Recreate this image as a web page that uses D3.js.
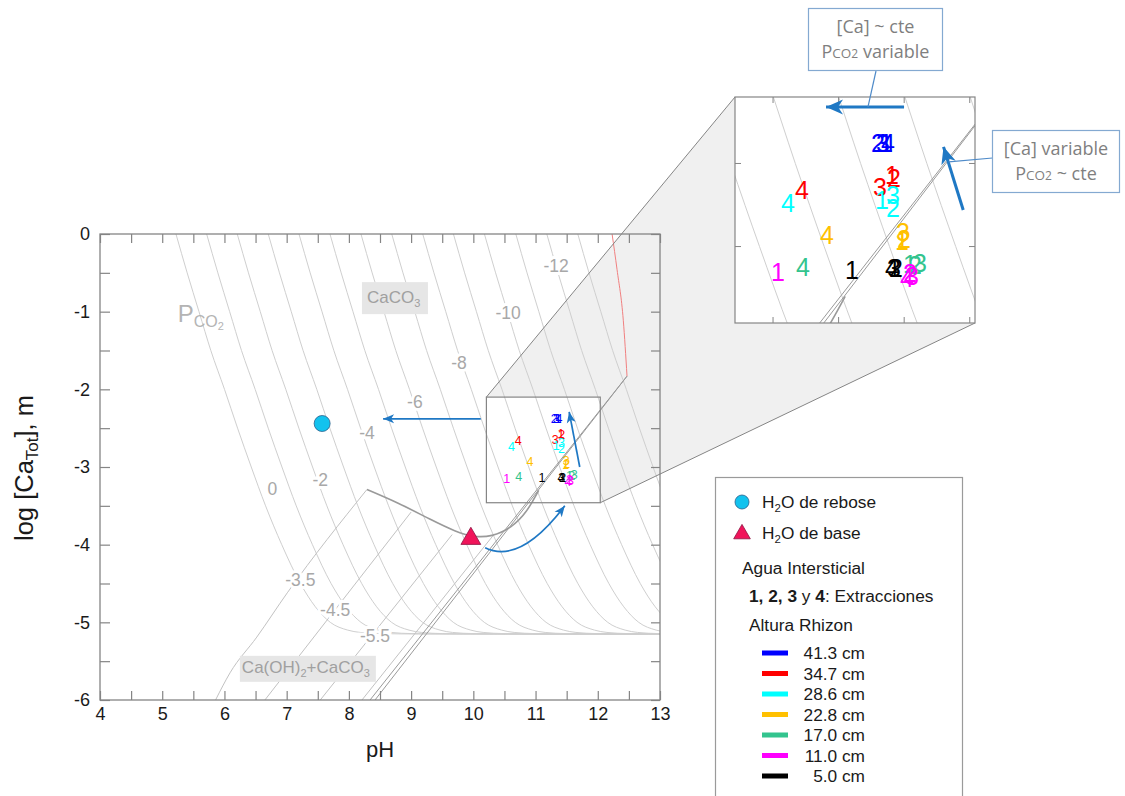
<!DOCTYPE html>
<html>
<head>
<meta charset="utf-8">
<title>log [Ca] – pH</title>
<script src="https://cdn.jsdelivr.net/npm/d3@7/dist/d3.min.js"></script>
<style>
  html, body { margin: 0; padding: 0; background: #fff; }
  svg { display: block; font-family: "Liberation Sans", Arial, Helvetica, sans-serif; }
</style>
</head>
<body>
<svg id="chart" width="1125" height="796"></svg>
<script>
// ---------- axis ticks ----------
const pHTicks = [4, 5, 6, 7, 8, 9, 10, 11, 12, 13];
const logCaTicks = [0, -1, -2, -3, -4, -5, -6];

// ---------- P_CO2 isolines (calcite equilibrium) ----------
// pH where each isoline meets log[Ca]=0, and the common isoline shape (pH offset vs log[Ca])
const pco2Levels  = [0, -1, -2, -3, -4, -5, -6, -7, -8, -9, -10, -11, -12, -13];
const isoTopPH    = [5.221, 5.714, 6.206, 6.704, 7.198, 7.696, 8.194, 8.689, 9.187, 9.680, 10.178, 10.683, 11.181, 11.679];
const isoShapeCa  = [0, -0.5, -1, -1.5, -2, -2.5, -3, -3.5, -4, -4.5, -4.8, -5.0, -5.1, -5.13, -5.145, -5.15, -5.15];
const isoShapeDPH = [0, 0.18, 0.37, 0.56, 0.78, 0.99, 1.21, 1.44, 1.70, 2.00, 2.24, 2.48, 2.76, 2.96, 3.30, 3.90, 30];
const isoLabelText = ["0", "-2", "-4", "-6", "-8", "-10", "-12"];
const isoLabelPH   = [6.77, 7.54, 8.29, 9.06, 9.77, 10.56, 11.33];
const isoLabelCa   = [-3.28, -3.17, -2.56, -2.16, -1.66, -1.02, -0.41];

// ---------- Ca(OH)2 + CaCO3 field ----------
const mix35PH = [5.857, 6.09, 6.52, 7.01, 8.29];
const mix35Ca = [-6.0, -5.65, -5.19, -4.62, -3.29];
const mix45PH = [6.65, 9.0];
const mix45Ca = [-6.0, -3.58];
const mix55PH = [7.54, 9.66];
const mix55Ca = [-6.0, -3.87];
const mix65PH = [8.21, 10.33];
const mix65Ca = [-6.0, -3.87];
const mixLabelText = ["-3.5", "-4.5", "-5.5"];
const mixLabelPH   = [7.22, 7.78, 8.42];
const mixLabelCa   = [-4.45, -4.84, -5.17];
// upper boundary of the mixed field
const ridgePH = [8.29, 8.80, 9.30, 9.70, 10.00, 10.30, 10.60, 10.85, 11.05];
const ridgeCa = [-3.29, -3.47, -3.67, -3.82, -3.89, -3.88, -3.77, -3.57, -3.30];
// Ca(OH)2 saturation edge (double line) and its upper continuation
const edgeAPH = [8.34, 12.47];
const edgeACa = [-6.0, -1.83];
const edgeBPH = [8.42, 12.47];
const edgeBCa = [-6.0, -1.83];
const portlPH = [12.47, 12.41, 12.31, 12.23];
const portlCa = [-1.83, -1.11, -0.46, 0];

// ---------- samples ----------
const sampleName = ["rebose", "base"];
const samplePH   = [7.57, 9.96];
const sampleCa   = [-2.44, -3.91];

// ---------- pore water (Rhizon), extractions 1..4 ----------
const rhizonHeight = ["41.3", "34.7", "28.6", "22.8", "17.0", "11.0", "5.0"];
const extraction   = ["1", "2", "3", "4"];
const rhizonPH = [
  [11.361, 11.300, 11.338, 11.377],
  [11.407, 11.422, 11.316, 10.721],
  [11.331, 11.415, 11.415, 10.614],
  [11.483, 11.499, 11.491, 10.911],
  [11.544, 11.582, 11.621, 10.728],
  [10.538, 11.544, 11.560, 11.521],
  [11.102, 11.438, 11.422, 11.407]
];
const rhizonCa = [
  [-2.377, -2.377, -2.377, -2.377],
  [-2.569, -2.587, -2.642, -2.660],
  [-2.720, -2.768, -2.690, -2.738],
  [-2.967, -2.955, -2.912, -2.930],
  [-3.105, -3.111, -3.099, -3.123],
  [-3.153, -3.159, -3.177, -3.189],
  [-3.141, -3.129, -3.129, -3.129]
];
const rhizonColor = ["#0000ff", "#ff0000", "#00ffff", "#ffc000", "#33c48e", "#ff00ff", "#000000"];

// magnified window (pH, log[Ca])
const winPH = [10.21, 12.04];
const winCa = [-2.10, -3.46];

// trend arrows [pH, logCa] tail -> head
const arrowMainH    = [[10.12, -2.38], [8.55, -2.38]];
const arrowMainV    = [[11.71, -3.00], [11.54, -2.29]];
const arrowCurve    = [[10.19, -4.04], [10.75, -4.26], [11.47, -3.50]];
const arrowZoomH    = [[11.499, -2.16], [10.904, -2.16]];
const arrowZoomDiag = [[11.95, -2.78], [11.80, -2.40]];

// ================= drawing =================
const svg = d3.select("#chart");
const x  = d3.scaleLinear().domain([4, 13]).range([100, 660]);
const y  = d3.scaleLinear().domain([0, -6]).range([234, 700]);
const zx = d3.scaleLinear().domain(winPH).range([735, 975]);
const zy = d3.scaleLinear().domain(winCa).range([97, 323]);

const ARROW = "#1f78c4";
const ISO = "#cfcfcf";
const EDGE = "#9a9a9a";
const LABEL = "#a8a8a8";
const FRAME = "#858585";

const defs = svg.append("defs");
defs.append("clipPath").attr("id", "clipMain").append("rect")
  .attr("x", x(4)).attr("y", y(0)).attr("width", x(13) - x(4)).attr("height", y(-6) - y(0));
defs.append("clipPath").attr("id", "clipZoom").append("rect")
  .attr("x", zx(winPH[0])).attr("y", zy(winCa[0]))
  .attr("width", zx(winPH[1]) - zx(winPH[0])).attr("height", zy(winCa[1]) - zy(winCa[0]));

function marker(id, len, half, notch) {
  defs.append("marker").attr("id", id).attr("markerUnits", "userSpaceOnUse")
    .attr("viewBox", `${-len - 1} ${-half - 1} ${len + 2} ${2 * half + 2}`)
    .attr("markerWidth", len + 2).attr("markerHeight", 2 * half + 2)
    .attr("refX", 0).attr("refY", 0).attr("orient", "auto")
    .append("path")
    .attr("d", `M0,0 L${-len},${-half} L${-len + notch},0 L${-len},${half} Z`)
    .attr("fill", ARROW);
}
marker("headS", 11, 4.5, 3);
marker("headL", 17, 7.5, 5);

const zip = (a, b) => a.map((v, i) => [v, b[i]]);
const lineIn = (sx, sy, curve) => {
  const l = d3.line().x(d => sx(d[0])).y(d => sy(d[1]));
  return curve ? l.curve(curve) : l;
};

// ---- zoom connector shading ----
const wx0 = x(winPH[0]), wx1 = x(winPH[1]), wy0 = y(winCa[0]), wy1 = y(winCa[1]);
const bx0 = zx(winPH[0]), bx1 = zx(winPH[1]), by0 = zy(winCa[0]), by1 = zy(winCa[1]);
svg.append("path")
  .attr("d", `M${wx0},${wy0} L${bx0},${by0} L${bx1},${by0} L${bx1},${by1} L${wx1},${wy1} L${wx1},${wy0} Z`)
  .attr("fill", "#f0f0f0");

// ---- background diagram (used in the main plot and in the magnified window) ----
const isoData = pco2Levels.map((lv, i) => isoShapeCa.map((c, j) => [isoTopPH[i] + isoShapeDPH[j], c]));

function drawDiagram(g, sx, sy) {
  const iso = lineIn(sx, sy, d3.curveMonotoneX);
  g.selectAll("path.iso").data(isoData).join("path").attr("class", "iso")
    .attr("d", iso).attr("fill", "none").attr("stroke", ISO).attr("stroke-width", 1);

  const straight = lineIn(sx, sy);
  const smooth = lineIn(sx, sy, d3.curveMonotoneX);
  const natural = lineIn(sx, sy, d3.curveNatural);
  [[mix35PH, mix35Ca], [mix45PH, mix45Ca], [mix55PH, mix55Ca], [mix65PH, mix65Ca]].forEach(([p, c]) => {
    g.append("path").attr("d", smooth(zip(p, c))).attr("fill", "none")
      .attr("stroke", "#c2c2c2").attr("stroke-width", 1);
  });
  g.append("path").attr("d", natural(zip(ridgePH, ridgeCa))).attr("fill", "none")
    .attr("stroke", EDGE).attr("stroke-width", 1.6);
  [[edgeAPH, edgeACa], [edgeBPH, edgeBCa]].forEach(([p, c]) => {
    g.append("path").attr("d", straight(zip(p, c))).attr("fill", "none")
      .attr("stroke", EDGE).attr("stroke-width", 1);
  });
  g.append("path").attr("d", smooth(zip(portlPH, portlCa).reverse())).attr("fill", "none")
    .attr("stroke", "#f08080").attr("stroke-width", 1);
}

const gMain = svg.append("g").attr("clip-path", "url(#clipMain)");
drawDiagram(gMain, x, y);

// ---- isoline labels ----
function haloLabel(g, px, py, txt, size) {
  g.append("text").attr("x", px).attr("y", py).attr("dy", "0.35em")
    .attr("text-anchor", "middle").attr("font-size", size).attr("fill", LABEL)
    .attr("stroke", "#fff").attr("stroke-width", 6).attr("paint-order", "stroke")
    .text(txt);
}
isoLabelText.forEach((t, i) => haloLabel(svg, x(isoLabelPH[i]), y(isoLabelCa[i]), t, 17.5));
mixLabelText.forEach((t, i) => haloLabel(svg, x(mixLabelPH[i]), y(mixLabelCa[i]), t, 17.5));

// ---- field names ----
function rich(g, px, py, parts, attrs) {
  const t = g.append("text").attr("x", px).attr("y", py);
  Object.entries(attrs || {}).forEach(([k, v]) => t.attr(k, v));
  parts.forEach(p => {
    const s = t.append("tspan").text(p.t);
    if (p.s) s.attr("font-size", p.s);
    if (p.dy) s.attr("dy", p.dy);
    if (p.w) s.attr("font-weight", p.w);
  });
  return t;
}
// P_CO2
rich(svg, x(5.25), y(-1.13), [
  { t: "P", s: 24 }, { t: "CO", s: 16, dy: 5 }, { t: "2", s: 11, dy: 3 }
], { fill: "#b4b4b4" });
// CaCO3 field
svg.append("rect").attr("x", x(8.29) - 5).attr("y", y(-0.89) - 21).attr("width", 66).attr("height", 32).attr("fill", "#e6e6e6");
rich(svg, x(8.29), y(-0.89), [
  { t: "CaCO", s: 17 }, { t: "3", s: 11, dy: 4 }
], { fill: "#a0a0a0" });
// Ca(OH)2 + CaCO3 field
svg.append("rect").attr("x", x(6.28) - 2).attr("y", y(-5.65) - 17).attr("width", 136).attr("height", 26).attr("fill", "#e6e6e6");
rich(svg, x(6.28), y(-5.65), [
  { t: "Ca(OH)", s: 17 }, { t: "2", s: 11, dy: 4 }, { t: "+CaCO", s: 17, dy: -4 }, { t: "3", s: 11, dy: 4 }
], { fill: "#a0a0a0" });

// ---- axes ----
const halfPH = d3.range(4, 13.001, 0.5);
const halfCa = d3.range(0, -6.001, -0.5);
function styleAxis(g) {
  g.select(".domain").remove();
  g.selectAll(".tick line").attr("stroke", FRAME).attr("stroke-width", 1.2);
  g.selectAll(".tick text").attr("font-size", 18).attr("fill", "#1a1a1a")
    .attr("font-family", "'Liberation Sans', Arial, sans-serif");
}
svg.append("g").attr("transform", `translate(0,${y(-6)})`)
  .call(d3.axisBottom(x).tickValues(halfPH).tickSizeInner(-9).tickSizeOuter(0).tickPadding(7)
    .tickFormat(d => pHTicks.includes(d) ? String(d) : ""))
  .call(styleAxis);
svg.append("g").attr("transform", `translate(0,${y(0)})`)
  .call(d3.axisTop(x).tickValues(halfPH).tickSizeInner(-9).tickSizeOuter(0).tickFormat(() => ""))
  .call(styleAxis);
svg.append("g").attr("transform", `translate(${x(4)},0)`)
  .call(d3.axisLeft(y).tickValues(halfCa).tickSizeInner(-10).tickSizeOuter(0).tickPadding(10)
    .tickFormat(d => logCaTicks.includes(d) ? String(d) : ""))
  .call(styleAxis);
svg.append("g").attr("transform", `translate(${x(13)},0)`)
  .call(d3.axisRight(y).tickValues(halfCa).tickSizeInner(-9).tickSizeOuter(0).tickFormat(() => ""))
  .call(styleAxis);
svg.append("rect").attr("x", x(4)).attr("y", y(0)).attr("width", x(13) - x(4)).attr("height", y(-6) - y(0))
  .attr("fill", "none").attr("stroke", FRAME).attr("stroke-width", 1.3);

// axis titles
svg.append("text").attr("x", x(8.5)).attr("y", 757).attr("text-anchor", "middle")
  .attr("font-size", 22).attr("fill", "#1a1a1a").text("pH");
rich(svg, 0, 0, [
  { t: "log [Ca", s: 25.5 }, { t: "Tot", s: 17, dy: 5 }, { t: "], m", s: 25.5, dy: -5 }
], { "text-anchor": "middle", fill: "#1a1a1a", transform: `translate(33,468) rotate(-90)` });

// ---- magnified-window frame and connectors ----
svg.append("rect").attr("x", wx0).attr("y", wy0).attr("width", wx1 - wx0).attr("height", wy1 - wy0)
  .attr("fill", "none").attr("stroke", FRAME).attr("stroke-width", 1.2);
svg.append("line").attr("x1", wx0).attr("y1", wy0).attr("x2", bx0).attr("y2", by0)
  .attr("stroke", FRAME).attr("stroke-width", 1);
svg.append("line").attr("x1", wx1).attr("y1", wy1).attr("x2", bx1).attr("y2", by1)
  .attr("stroke", FRAME).attr("stroke-width", 1);

// ---- pore-water digits ----
function drawDigits(g, sx, sy, size) {
  rhizonPH.forEach((row, r) => {
    row.forEach((p, e) => {
      g.append("text").attr("x", sx(p)).attr("y", sy(rhizonCa[r][e])).attr("dy", "0.36em")
        .attr("text-anchor", "middle").attr("font-size", size).attr("fill", rhizonColor[r])
        .text(extraction[e]);
    });
  });
}
drawDigits(svg, x, y, 12.5);

// ---- arrows (main plot) ----
const arrowPath = (sx, sy) => d3.line().x(d => sx(d[0])).y(d => sy(d[1]));
svg.append("path").attr("d", arrowPath(x, y)(arrowMainH)).attr("stroke", ARROW).attr("stroke-width", 1.7)
  .attr("fill", "none").attr("marker-end", "url(#headS)");
svg.append("path").attr("d", arrowPath(x, y)(arrowMainV)).attr("stroke", ARROW).attr("stroke-width", 1.7)
  .attr("fill", "none").attr("marker-end", "url(#headS)");
{
  const [a, c, b] = arrowCurve;
  svg.append("path")
    .attr("d", `M${x(a[0])},${y(a[1])} Q${x(c[0])},${y(c[1])} ${x(b[0])},${y(b[1])}`)
    .attr("stroke", ARROW).attr("stroke-width", 1.7).attr("fill", "none").attr("marker-end", "url(#headS)");
}

// ---- sample markers ----
svg.append("circle").attr("cx", x(samplePH[0])).attr("cy", y(sampleCa[0])).attr("r", 8)
  .attr("fill", "#12c2ee").attr("stroke", "#2a5f8c").attr("stroke-width", 0.8);
const tri = d3.symbol().type(d3.symbolTriangle);
svg.append("path").attr("d", tri.size(170)())
  .attr("transform", `translate(${x(samplePH[1])},${y(sampleCa[1]) + 1})`)
  .attr("fill", "#f0145a").attr("stroke", "#8c1040").attr("stroke-width", 0.8);

// ================= magnified window =================
const gZ = svg.append("g");
gZ.append("rect").attr("x", bx0).attr("y", by0).attr("width", bx1 - bx0).attr("height", by1 - by0).attr("fill", "#fff");
const gZc = gZ.append("g").attr("clip-path", "url(#clipZoom)");
drawDiagram(gZc, zx, zy);
// window ticks
[10.5, 11, 11.5, 12].forEach(p => {
  gZ.append("line").attr("x1", zx(p)).attr("x2", zx(p)).attr("y1", by0).attr("y2", by0 + 6).attr("stroke", FRAME);
  gZ.append("line").attr("x1", zx(p)).attr("x2", zx(p)).attr("y1", by1).attr("y2", by1 - 6).attr("stroke", FRAME);
});
[-2.5, -3].forEach(c => {
  gZ.append("line").attr("y1", zy(c)).attr("y2", zy(c)).attr("x1", bx0).attr("x2", bx0 + 6).attr("stroke", FRAME);
  gZ.append("line").attr("y1", zy(c)).attr("y2", zy(c)).attr("x1", bx1).attr("x2", bx1 - 6).attr("stroke", FRAME);
});
drawDigits(gZ, zx, zy, 25);
gZ.append("rect").attr("x", bx0).attr("y", by0).attr("width", bx1 - bx0).attr("height", by1 - by0)
  .attr("fill", "none").attr("stroke", FRAME).attr("stroke-width", 1.2);
gZ.append("path").attr("d", arrowPath(zx, zy)(arrowZoomH)).attr("stroke", ARROW).attr("stroke-width", 3)
  .attr("fill", "none").attr("marker-end", "url(#headL)");
gZ.append("path").attr("d", arrowPath(zx, zy)(arrowZoomDiag)).attr("stroke", ARROW).attr("stroke-width", 3)
  .attr("fill", "none").attr("marker-end", "url(#headL)");

// ---- callouts ----
const CALL_BORDER = "#84a9d1", CALL_TEXT = "#7f7f7f", LEADER = "#4f8bc9";
function callout(bx, bw, by, line1, line2rest, lx1, ly1, lx2, ly2) {
  svg.append("line").attr("x1", lx1).attr("y1", ly1).attr("x2", lx2).attr("y2", ly2)
    .attr("stroke", LEADER).attr("stroke-width", 1.2);
  svg.append("rect").attr("x", bx).attr("y", by).attr("width", bw).attr("height", 62)
    .attr("fill", "#fff").attr("stroke", CALL_BORDER).attr("stroke-width", 1.2);
  const cx = bx + bw / 2;
  svg.append("text").attr("x", cx).attr("y", by + 24).attr("text-anchor", "middle")
    .attr("font-family", "'Open Sans', sans-serif").attr("font-size", 18).attr("fill", CALL_TEXT).text(line1);
  rich(svg, cx, by + 49, [
    { t: "P", s: 18 }, { t: "CO", s: 13.5 }, { t: "2", s: 12 }, { t: line2rest, s: 18 }
  ], { "text-anchor": "middle", "font-family": "'Open Sans', sans-serif", fill: CALL_TEXT });
}
callout(808.5, 134, 8.5, "[Ca] ~ cte", " variable", 876, 71, zx(11.224), zy(-2.16));
callout(992.5, 127, 130.5, "[Ca] variable", " ~ cte", 992.5, 158, zx(11.84), zy(-2.49));

// ================= legend =================
const lg = svg.append("g");
lg.append("rect").attr("x", 715.5).attr("y", 477.5).attr("width", 247).attr("height", 340)
  .attr("fill", "#fff").attr("stroke", "#9a9a9a").attr("stroke-width", 1.2);
lg.append("circle").attr("cx", 742).attr("cy", 502).attr("r", 7)
  .attr("fill", "#12c2ee").attr("stroke", "#2a5f8c").attr("stroke-width", 0.8);
lg.append("path").attr("d", tri.size(120)()).attr("transform", "translate(742,534)")
  .attr("fill", "#f0145a").attr("stroke", "#8c1040").attr("stroke-width", 0.8);
const LGF = 17.3;
rich(lg, 762, 508, [{ t: "H", s: LGF }, { t: "2", s: 11.5, dy: 4 }, { t: "O de " + sampleName[0], s: LGF, dy: -4 }], { fill: "#1a1a1a" });
rich(lg, 762, 539, [{ t: "H", s: LGF }, { t: "2", s: 11.5, dy: 4 }, { t: "O de " + sampleName[1], s: LGF, dy: -4 }], { fill: "#1a1a1a" });
lg.append("text").attr("x", 742).attr("y", 574).attr("font-size", LGF).attr("fill", "#1a1a1a").text("Agua Intersticial");
rich(lg, 749, 602, [
  { t: "1, 2, 3", s: LGF, w: "bold" }, { t: " y ", s: LGF }, { t: "4", s: LGF, w: "bold" }, { t: ": Extracciones", s: LGF }
], { fill: "#1a1a1a" });
lg.append("text").attr("x", 749).attr("y", 631).attr("font-size", LGF).attr("fill", "#1a1a1a").text("Altura Rhizon");
rhizonHeight.forEach((h, i) => {
  const cy = 653 + i * 20.5;
  lg.append("rect").attr("x", 762).attr("y", cy - 2.5).attr("width", 26).attr("height", 5).attr("fill", rhizonColor[i]);
  lg.append("text").attr("x", 865).attr("y", cy + 6).attr("text-anchor", "end")
    .attr("font-size", LGF).attr("fill", "#1a1a1a").text(h + " cm");
});
</script>
</body>
</html>
